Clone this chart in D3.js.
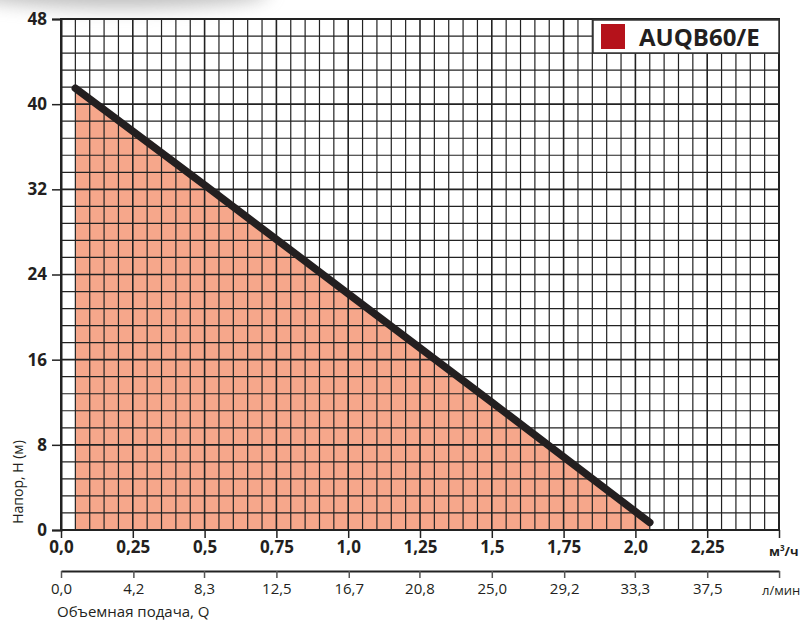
<!DOCTYPE html>
<html>
<head>
<meta charset="utf-8">
<script src="https://cdn.jsdelivr.net/npm/d3@7"></script>
<style>
  html, body { margin: 0; padding: 0; background: #fff; }
  svg { display: block; font-family: "Open Sans", "Noto Sans", sans-serif; }
</style>
</head>
<body>
<svg id="chart" width="803" height="620"></svg>
<script>
// ---- data ----
const flowM3h = [0.05, 0.5, 1.0, 1.5, 2.05];
const headM = [41.5, 32.4, 22.2, 12.0, 0.7];
const m3Ticks = [0, 0.25, 0.5, 0.75, 1.0, 1.25, 1.5, 1.75, 2.0, 2.25, 2.5];
const m3Labels = ["0,0", "0,25", "0,5", "0,75", "1,0", "1,25", "1,5", "1,75", "2,0", "2,25", ""];
const lminTicks = [0, 4.2, 8.3, 12.5, 16.7, 20.8, 25.0, 29.2, 33.3, 37.5, 41.67];
const lminLabels = ["0,0", "4,2", "8,3", "12,5", "16,7", "20,8", "25,0", "29,2", "33,3", "37,5", ""];
const yTicks = [0, 8, 16, 24, 32, 40, 48];
const seriesName = "AUQB60/E";

// ---- layout ----
const svg = d3.select("#chart");
const x = d3.scaleLinear().domain([0, 2.5]).range([61, 779]);
const xL = d3.scaleLinear().domain([0, 2.5 * 1000 / 60]).range([61, 779]);
const y = d3.scaleLinear().domain([0, 48]).range([530, 19]);

// decorative shadow at the top-left
const defs = svg.append("defs");
const f = defs.append("filter").attr("id", "blur").attr("x", "-50%").attr("y", "-200%").attr("width", "200%").attr("height", "500%");
f.append("feGaussianBlur").attr("stdDeviation", 9);
svg.append("ellipse").attr("cx", 120).attr("cy", -8).attr("rx", 150).attr("ry", 16)
  .attr("fill", "#8c8c8c").attr("opacity", 0.55).attr("filter", "url(#blur)");

// area fill
const pts = flowM3h.map((q, i) => [q, headM[i]]);
const areaGen = d3.area().x(d => x(d[0])).y0(y(0)).y1(d => y(d[1]));
svg.append("path").datum(pts).attr("d", areaGen).attr("fill", "#F6A78B");

// grid
const g = svg.append("g");
const vLines = d3.range(0, 51).map(i => i * 0.05);
g.selectAll("line.v").data(vLines).enter().append("line")
  .attr("x1", d => x(d)).attr("x2", d => x(d))
  .attr("y1", y(48)).attr("y2", y(0))
  .attr("stroke", "#222")
  .attr("stroke-width", (d, i) => (i % 5 === 0 ? 1.6 : 1.2));
const hLines = d3.range(0, 31).map(i => i * 1.6);
g.selectAll("line.h").data(hLines).enter().append("line")
  .attr("x1", x(0)).attr("x2", x(2.5))
  .attr("y1", d => y(d)).attr("y2", d => y(d))
  .attr("stroke", "#222")
  .attr("stroke-width", (d, i) => (i % 5 === 0 ? 1.6 : 1.2));

// frame
svg.append("rect").attr("x", x(0)).attr("y", y(48)).attr("width", x(2.5) - x(0)).attr("height", y(0) - y(48))
  .attr("fill", "none").attr("stroke", "#222").attr("stroke-width", 2);

// curve
svg.append("path").datum(pts)
  .attr("d", d3.line().x(d => x(d[0])).y(d => y(d[1])))
  .attr("fill", "none").attr("stroke", "#231f20").attr("stroke-width", 7.5).attr("stroke-linecap", "round");

// y axis
const yAxis = svg.append("g").attr("transform", `translate(${x(0)},0)`)
  .call(d3.axisLeft(y).tickValues(yTicks).tickSize(9).tickPadding(5).tickFormat(d3.format("d")));
yAxis.select(".domain").attr("stroke", "#222").attr("stroke-width", 2);
yAxis.selectAll(".tick line").attr("stroke", "#222").attr("stroke-width", 1.5);
yAxis.selectAll(".tick text").attr("font-size", 17).attr("font-weight", "bold").attr("fill", "#231f20")
  .attr("font-family", "'Open Sans', sans-serif");

// bottom axis m3/h
const xAxis = svg.append("g").attr("transform", `translate(0,${y(0)})`)
  .call(d3.axisBottom(x).tickValues(m3Ticks).tickSize(8).tickPadding(3).tickFormat((d, i) => m3Labels[i]));
xAxis.select(".domain").remove();
xAxis.selectAll(".tick line").attr("stroke", "#222").attr("stroke-width", 1.5);
xAxis.selectAll(".tick text").attr("font-size", 17).attr("font-weight", "bold").attr("fill", "#231f20")
  .attr("font-family", "'Open Sans', sans-serif");

svg.append("text").attr("x", 769).attr("y", 556)
  .attr("font-size", 13).attr("font-weight", "bold").attr("fill", "#231f20")
  .html('м<tspan dy="-5" font-size="8">3</tspan><tspan dy="5">/ч</tspan>');

// second axis l/min
const x2 = svg.append("g").attr("transform", "translate(0,571)")
  .call(d3.axisBottom(xL).tickValues(lminTicks).tickSize(7).tickSizeOuter(0).tickPadding(5).tickFormat((d, i) => lminLabels[i]));
x2.select(".domain").attr("stroke", "#222").attr("stroke-width", 2);
x2.selectAll(".tick line").attr("stroke", "#555").attr("stroke-width", 1.5);
x2.selectAll(".tick text").attr("font-size", 15).attr("fill", "#231f20")
  .attr("font-family", "'Open Sans', sans-serif");

svg.append("text").attr("x", 762).attr("y", 595).attr("font-size", 13).attr("fill", "#231f20").text("л/мин");
svg.append("text").attr("x", 57).attr("y", 617).attr("font-size", 15).attr("fill", "#231f20").text("Объемная подача, Q");
svg.append("text").attr("transform", "translate(23,482) rotate(-90)").attr("text-anchor", "middle")
  .attr("font-size", 14).attr("fill", "#231f20").text("Напор, H (м)");

// legend
const lg = svg.append("g");
lg.append("rect").attr("x", 593).attr("y", 20).attr("width", 186).attr("height", 33)
  .attr("fill", "#fff").attr("stroke", "#333").attr("stroke-width", 1.5);
lg.append("rect").attr("x", 601).attr("y", 24).attr("width", 24).attr("height", 25).attr("fill", "#B5121B");
lg.append("text").attr("x", 639).attr("y", 46).attr("font-size", 24).attr("font-weight", "bold")
  .attr("fill", "#231f20").text(seriesName);
</script>
</body>
</html>
